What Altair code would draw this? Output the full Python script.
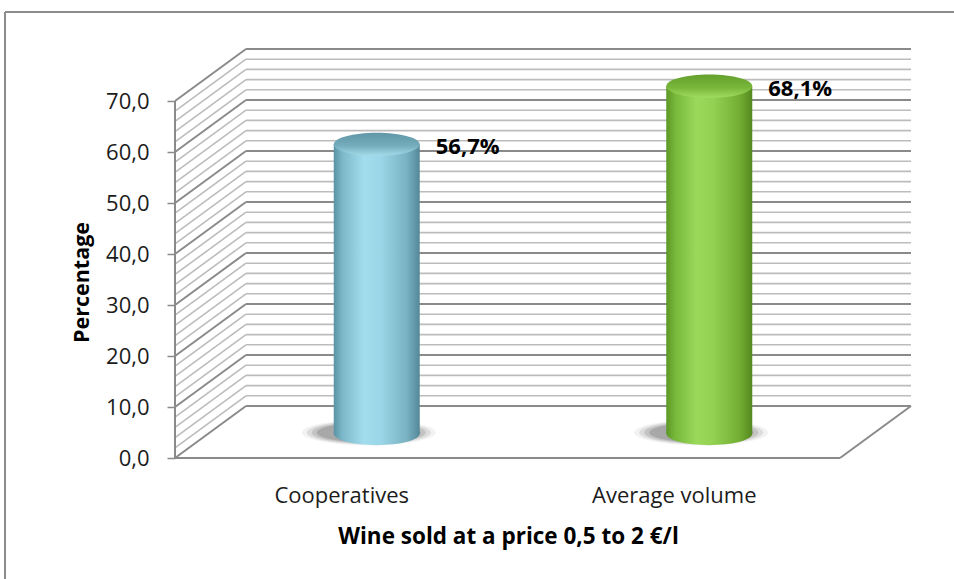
import json

import altair as alt
import pandas as pd

# ---- data ---------------------------------------------------------------
CATEGORIES = ["Cooperatives", "Average volume"]
VALUES = [56.7, 68.1]
Y_TICKS = [0, 10, 20, 30, 40, 50, 60, 70]
GRID_STEP = 2
Y_MAX = 70

X_TITLE = "Wine sold at a price 0,5 to 2 €/l"
Y_TITLE = "Percentage"

# ---- 3-D frame geometry (x in category widths, y in percentage points) ----
DEPTH_X = 0.2135      # horizontal shift of the back wall
DEPTH_Y = 10.2        # vertical shift of the back wall
BASE_Y = 4.8          # cylinders stand half-way into the floor
PX_PER_CAT = 332.5
PX_PER_PCT = 5.1
BAR_PX = 86
N = len(CATEGORIES)

W = round((N + DEPTH_X) * PX_PER_CAT)
H = round((Y_MAX + DEPTH_Y) * PX_PER_PCT)
HALF_BAR = BAR_PX / PX_PER_CAT / 2

FONT = "Open Sans"
TEXT = "#1c1c1c"
GRID_MAJOR = "#8a8a8a"
GRID_MINOR = "#bcbcbc"

X_SCALE = alt.Scale(domain=[0, N + DEPTH_X], nice=False, zero=False)
Y_SCALE = alt.Scale(domain=[0, Y_MAX + DEPTH_Y], nice=False, zero=False)

X_AXIS = alt.Axis(
    values=[i + 0.5 for i in range(N)],
    labelExpr=f"{json.dumps(CATEGORIES)}[floor(datum.value)]",
    ticks=False, tickSize=0, domain=False, grid=False,
    labelFont=FONT, labelFontSize=22, labelColor=TEXT,
    labelBaseline="alphabetic", labelPadding=44,
    title=X_TITLE, titleFont=FONT, titleFontSize=22.5, titleFontWeight="bold",
    titleColor="#000000", titleX=333, titleY=85, titleAlign="center",
    titleBaseline="alphabetic",
)
Y_AXIS = alt.Axis(
    values=Y_TICKS,
    labelExpr="replace(format(datum.value, '.1f'), '.', ',')",
    tickSize=8, tickColor=GRID_MAJOR, tickWidth=1.5, domain=False, grid=False,
    labelFont=FONT, labelFontSize=22, labelColor=TEXT, labelPadding=18,
    title=Y_TITLE, titleFont=FONT, titleFontSize=21.5, titleFontWeight="bold",
    titleColor="#000000", titleAngle=270, titleX=-93, titleY=233,
    titleAlign="center", titleBaseline="middle",
)


def xq(field):
    return alt.X(field, type="quantitative", scale=X_SCALE, axis=X_AXIS)


def yq(field):
    return alt.Y(field, type="quantitative", scale=Y_SCALE, axis=Y_AXIS)


# ---- walls and floor ------------------------------------------------------
levels = list(range(0, Y_MAX + 1, GRID_STEP))
grid = pd.DataFrame({"level": levels})
grid["major"] = grid["level"] % 10 == 0
grid["back_y"] = grid["level"] + DEPTH_Y
grid["back_x0"] = DEPTH_X
grid["back_x1"] = N + DEPTH_X
grid["side_x0"] = 0.0
grid["side_x1"] = DEPTH_X

line_color = alt.condition("datum.major", alt.value(GRID_MAJOR), alt.value(GRID_MINOR))
line_width = alt.condition("datum.major", alt.value(2), alt.value(1.6))

back_wall = alt.Chart(grid).mark_rule().encode(
    x=xq("back_x0"), x2="back_x1",
    y=yq("back_y"), y2="back_y",
    color=line_color, strokeWidth=line_width,
)
side_wall = alt.Chart(grid).mark_rule().encode(
    x=xq("side_x0"), x2="side_x1",
    y=yq("level"), y2="back_y",
    color=line_color, strokeWidth=line_width,
)

frame = pd.DataFrame({
    "x0": [0.0, 0.0, float(N)],
    "y0": [0.0, 0.0, 0.0],
    "x1": [0.0, float(N), N + DEPTH_X],
    "y1": [float(Y_MAX), 0.0, DEPTH_Y],
})
frame_lines = alt.Chart(frame).mark_rule(color=GRID_MAJOR, strokeWidth=2).encode(
    x=xq("x0"), x2="x1", y=yq("y0"), y2="y1",
)

# chart-area border (top and left edges)
one_row = alt.InlineData(values=[{"k": 0}])
border_top = alt.Chart(one_row).mark_rule(color="#8c8c8c", strokeWidth=2).encode(
    x=alt.value(-170), x2=alt.value(W + 60), y=alt.value(-37),
)
border_left = alt.Chart(one_row).mark_rule(color="#8c8c8c", strokeWidth=2).encode(
    x=alt.value(-170), y=alt.value(-37), y2=alt.value(H + 140),
)

# ---- cylinders ----------------------------------------------------------
bars = pd.DataFrame({"category": CATEGORIES, "value": VALUES, "idx": list(range(N))})

ELLIPSE = "M -1 0 A 1 0.27 0 1 0 1 0 A 1 0.27 0 1 0 -1 0 Z"
SHADOW = "M -1 0 A 1 0.19 0 1 0 1 0 A 1 0.19 0 1 0 -1 0 Z"

STYLES = {
    "Cooperatives": {
        "body": [(0, "#5a93a3"), (0.1, "#7cb8c9"), (0.35, "#a2ddee"),
                 (0.55, "#9ad6e7"), (0.85, "#79b2c2"), (1, "#548798")],
        "top": [(0, "#6197a6"), (0.55, "#74acbb"), (1, "#a4dceb")],
    },
    "Average volume": {
        "body": [(0, "#5b9726"), (0.1, "#77b739"), (0.35, "#9ad95a"),
                 (0.55, "#92d152"), (0.85, "#73ae33"), (1, "#54891f")],
        "top": [(0, "#64a02c"), (0.55, "#78b63b"), (1, "#a0dc60")],
    },
}


def gradient(stops, vertical=False):
    return alt.Gradient(
        gradient="linear",
        stops=[alt.GradientStop(offset=o, color=c) for o, c in stops],
        x1=0, x2=0 if vertical else 1, y1=0, y2=1 if vertical else 0,
    )


base = alt.Chart(bars).transform_calculate(
    center=f"datum.idx + 0.5 + {DEPTH_X / 2}",
).transform_calculate(
    left=f"datum.center - {HALF_BAR}",
    right=f"datum.center + {HALF_BAR}",
    floor=f"{BASE_Y}",
    top=f"datum.value + {BASE_Y}",
    label="replace(format(datum.value, '.1f'), '.', ',') + '%'",
)

layers = [border_top, border_left, back_wall, side_wall, frame_lines]

# soft shadow under each cylinder
for width_px, alpha in [(134, 0.08), (124, 0.14), (114, 0.2), (104, 0.26)]:
    layers.append(
        base.mark_point(shape=SHADOW, filled=True, color="#5e5e5e", opacity=alpha,
                        size=width_px ** 2, strokeWidth=0, xOffset=-8, yOffset=-1)
        .encode(x=xq("center"), y=yq("floor"))
    )

for cat in CATEGORIES:
    style = STYLES[cat]
    sel = base.transform_filter(alt.datum.category == cat)
    body_fill = gradient(style["body"])
    layers.append(
        sel.mark_point(shape=ELLIPSE, filled=True, fill=body_fill, opacity=1,
                       size=BAR_PX ** 2, strokeWidth=0)
        .encode(x=xq("center"), y=yq("floor"))
    )
    layers.append(
        sel.mark_rect(fill=body_fill, strokeWidth=0)
        .encode(x=xq("left"), x2="right", y=yq("floor"), y2="top")
    )
    layers.append(
        sel.mark_point(shape=ELLIPSE, filled=True, fill=gradient(style["top"], vertical=True),
                       opacity=1, size=BAR_PX ** 2, strokeWidth=0)
        .encode(x=xq("center"), y=yq("top"))
    )

labels = base.mark_text(
    align="left", baseline="middle", dx=16, dy=3,
    font=FONT, fontSize=22, fontWeight="bold", color="#000000",
).encode(x=xq("right"), y=yq("top"), text="label:N")
layers.append(labels)

chart = alt.layer(*layers).properties(
    width=W, height=H,
    autosize=alt.AutoSizeParams(type="none"),
    padding={"left": 175, "top": 49, "right": 954 - 175 - W, "bottom": 579 - 49 - H},
    background="#ffffff",
).configure_view(stroke=None)

chart.save("out.html", embed_options={"renderer": "svg", "actions": False})
